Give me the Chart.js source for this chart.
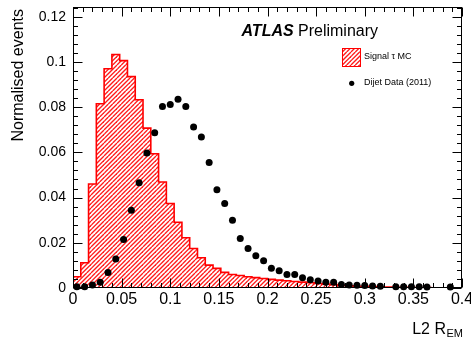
<!DOCTYPE html>
<html>
<head>
<meta charset="utf-8">
<script src="https://cdn.jsdelivr.net/npm/chart.js@4.4.1/dist/chart.umd.min.js"></script>
<style>
  html, body { margin: 0; padding: 0; background: #fff; }
  #c { display: block; }
</style>
</head>
<body>
<canvas id="c" width="471" height="338"></canvas>
<script>
// ---- Data ----
const BIN_WIDTH = 0.008;   // 50 bins over [0, 0.4]

// Signal tau MC histogram, one value per bin
const signalMC = [
  0.0050, 0.0112, 0.0460, 0.0815, 0.0970, 0.1033, 0.1006, 0.0935, 0.0833, 0.0707,
  0.0594, 0.0469, 0.0374, 0.0291, 0.0222, 0.0175, 0.0134, 0.0101, 0.0087, 0.0069,
  0.0060, 0.0055, 0.0050, 0.0046, 0.0042, 0.0038, 0.0035, 0.0032, 0.0029, 0.0026,
  0.0023, 0.0020, 0.0017, 0.0015, 0.0012, 0.0010, 0.0008, 0.0007, 0.0006, 0.0005,
  0.0004, 0.0003, 0.0003, 0.0002, 0.0002, 0.0002, 0.0001, 0.0001, 0.0001, 0.0001
];

// Dijet data (2011), one point per bin centre (null = no marker)
const dijetData = [
  0.0006, 0.0006, 0.0013, 0.0025, 0.0069, 0.0128, 0.0215, 0.0344, 0.0466, 0.0597,
  0.0687, 0.0803, 0.0812, 0.0835, 0.0803, 0.0712, 0.0668, 0.0555, 0.0435, 0.0374,
  0.0300, 0.0219, 0.0175, 0.0143, 0.0120, 0.0087, 0.0076, 0.0060, 0.0060, 0.0045,
  0.0036, 0.0031, 0.0025, 0.0025, 0.0016, 0.0013, 0.0012, 0.0011, 0.0009, 0.0008,
  null,   0.0006, 0.0005, 0.0005, 0.0005, 0.0004, null,   null,   0.0004, null
];

const xTicks = [0, 0.05, 0.1, 0.15, 0.2, 0.25, 0.3, 0.35, 0.4];
const xTickLabels = ['0', '0.05', '0.1', '0.15', '0.2', '0.25', '0.3', '0.35', '0.4'];
const yTicks = [0, 0.02, 0.04, 0.06, 0.08, 0.1, 0.12];
const yTickLabels = ['0', '0.02', '0.04', '0.06', '0.08', '0.1', '0.12'];

const X_MIN = 0, X_MAX = 0.4, Y_MIN = 0, Y_MAX = 0.1243;
const FONT = '"Liberation Sans", Arial, Helvetica, sans-serif';

// ---- Hatch pattern (ROOT style "/" lines) ----
function makeHatch() {
  const s = 13;
  const c = document.createElement('canvas');
  c.width = s; c.height = s;
  const g = c.getContext('2d');
  g.fillStyle = '#ffffff';
  g.fillRect(0, 0, s, s);
  g.strokeStyle = '#ff1a1a';
  g.lineWidth = 1.35;
  for (let k = -6; k <= 6; k++) {
    const o = k * s / 3;
    g.beginPath();
    g.moveTo(o, s);
    g.lineTo(o + s, 0);
    g.stroke();
  }
  return g.createPattern(c, 'repeat');
}
const hatch = makeHatch();

// histogram as stepped line: left edges + closing point at the right edge
const histPoints = signalMC.map((v, i) => ({ x: i * BIN_WIDTH, y: v }));
histPoints.push({ x: X_MAX, y: 0 });

const dataPoints = [];
dijetData.forEach((v, i) => {
  if (v !== null) dataPoints.push({ x: (i + 0.5) * BIN_WIDTH, y: v });
});

// ---- Frame with inward ticks on all four sides ----
const frameTicks = {
  id: 'frameTicks',
  afterDatasetsDraw(chart) {
    const { ctx, chartArea: a, scales: { x, y } } = chart;
    ctx.save();
    ctx.strokeStyle = '#000';
    ctx.lineWidth = 1;
    const L = Math.round(a.left) + 0.5, R = Math.round(a.right) - 0.5;
    const T = Math.round(a.top) + 0.5, B = Math.round(a.bottom) - 0.5;
    ctx.strokeRect(L, T, R - L, B - T);
    ctx.beginPath();
    // x ticks: major 0.05, minor 0.01
    for (let i = 0; i <= 40; i++) {
      const px = Math.round(x.getPixelForValue(i * 0.01)) + 0.5;
      const len = i % 5 === 0 ? 9 : 4.5;
      ctx.moveTo(px, B); ctx.lineTo(px, B - len);
      ctx.moveTo(px, T); ctx.lineTo(px, T + len);
    }
    // y ticks: major 0.02, minor 0.004
    for (let i = 0; i <= 31; i++) {
      const v = i * 0.004;
      if (v > Y_MAX) break;
      const py = Math.round(y.getPixelForValue(v)) + 0.5;
      const len = i % 5 === 0 ? 9 : 4.5;
      ctx.moveTo(L, py); ctx.lineTo(L + len, py);
      ctx.moveTo(R, py); ctx.lineTo(R - len, py);
    }
    ctx.stroke();
    ctx.restore();
  }
};

// ---- Titles, ATLAS label and legend ----
const annotations = {
  id: 'annotations',
  afterDraw(chart) {
    const ctx = chart.ctx;
    ctx.save();
    ctx.fillStyle = '#000';

    // y title
    ctx.save();
    ctx.translate(19, 9);
    ctx.rotate(-Math.PI / 2);
    ctx.font = '16px ' + FONT;
    ctx.textAlign = 'right';
    ctx.textBaseline = 'middle';
    ctx.fillText('Normalised events', 0, 0);
    ctx.restore();

    // x title: L2 R_EM
    ctx.textAlign = 'left';
    ctx.textBaseline = 'alphabetic';
    ctx.font = '16px ' + FONT;
    const w1 = ctx.measureText('L2 R').width;
    ctx.font = '11px ' + FONT;
    const w2 = ctx.measureText('EM').width;
    const x0 = 462.5 - w1 - w2;
    ctx.font = '16px ' + FONT;
    ctx.fillText('L2 R', x0, 333.5);
    ctx.font = '11px ' + FONT;
    ctx.fillText('EM', x0 + w1 + 0.5, 336.5);

    // ATLAS Preliminary
    ctx.font = 'italic bold 16px ' + FONT;
    ctx.fillText('ATLAS', 241.5, 36);
    ctx.font = '16px ' + FONT;
    ctx.fillText('Preliminary', 298, 36);

    // legend
    ctx.fillStyle = hatch;
    ctx.fillRect(342.5, 48, 18, 18);
    ctx.strokeStyle = '#ff0000';
    ctx.lineWidth = 1;
    ctx.strokeRect(342.5, 48.5, 18, 18);
    ctx.fillStyle = '#000';
    ctx.beginPath();
    ctx.arc(351.7, 83.3, 2.6, 0, Math.PI * 2);
    ctx.fill();
    ctx.font = '9px ' + FONT;
    ctx.textBaseline = 'middle';
    ctx.fillText('Signal \u03c4 MC', 364, 56.5);
    ctx.fillText('Dijet Data (2011)', 364, 82.5);
    ctx.restore();
  }
};

new Chart(document.getElementById('c').getContext('2d'), {
  type: 'scatter',
  data: {
    datasets: [
      {
        label: 'Dijet Data (2011)',
        data: dataPoints,
        pointStyle: 'circle',
        pointRadius: 3.5,
        backgroundColor: '#000',
        borderColor: '#000',
        borderWidth: 0,
        clip: false,
        order: 0
      },
      {
        type: 'line',
        label: 'Signal \u03c4 MC',
        data: histPoints,
        stepped: true,
        fill: 'origin',
        backgroundColor: hatch,
        borderColor: '#ff0000',
        borderWidth: 1.6,
        pointRadius: 0,
        tension: 0,
        order: 1
      }
    ]
  },
  options: {
    responsive: false,
    animation: false,
    devicePixelRatio: 1,
    layout: { padding: { left: 0, right: 9, top: 7, bottom: 0 } },
    plugins: { legend: { display: false }, tooltip: { enabled: false } },
    scales: {
      x: {
        type: 'linear', min: X_MIN, max: X_MAX,
        grid: { display: false, drawTicks: false },
        border: { display: false },
        afterBuildTicks: s => { s.ticks = xTicks.map(v => ({ value: v })); },
        ticks: {
          autoSkip: false, maxRotation: 0, padding: 2, color: '#000',
          font: { family: FONT, size: 16 },
          callback: (v, i) => xTickLabels[i]
        },
        afterFit: s => { s.height = 50; s.paddingLeft = 0; s.paddingRight = 0; }
      },
      y: {
        type: 'linear', min: Y_MIN, max: Y_MAX,
        grid: { display: false, drawTicks: false },
        border: { display: false },
        afterBuildTicks: s => { s.ticks = yTicks.map(v => ({ value: v })); },
        ticks: {
          autoSkip: false, padding: 7, color: '#000',
          font: { family: FONT, size: 14 },
          callback: (v, i) => yTickLabels[i]
        },
        afterFit: s => { s.width = 73; s.paddingTop = 0; s.paddingBottom = 0; }
      }
    }
  },
  plugins: [frameTicks, annotations]
});
</script>
</body>
</html>
